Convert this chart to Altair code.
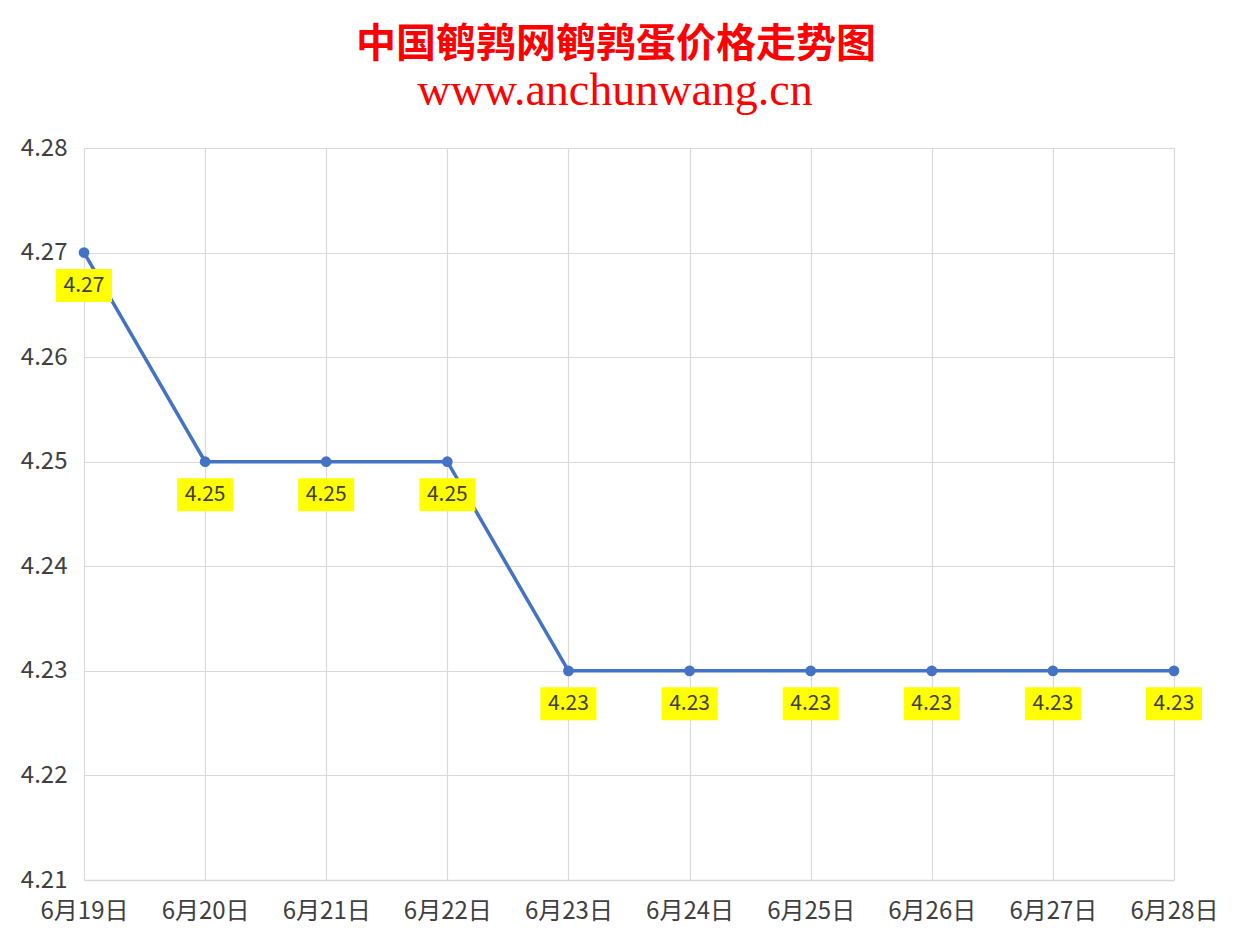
import altair as alt
import pandas as pd

dates = ["6月19日", "6月20日", "6月21日", "6月22日", "6月23日",
         "6月24日", "6月25日", "6月26日", "6月27日", "6月28日"]
prices = [4.27, 4.25, 4.25, 4.25, 4.23, 4.23, 4.23, 4.23, 4.23, 4.23]
y_ticks = [4.21, 4.22, 4.23, 4.24, 4.25, 4.26, 4.27, 4.28]
title_text = "中国鹌鹑网鹌鹑蛋价格走势图"
url_text = "www.anchunwang.cn"

df = pd.DataFrame({"date": dates, "price": prices})
df["label"] = [f"{p:.2f}" for p in prices]

FONT = "Noto Sans CJK SC"
W, H = 1090, 732

x = alt.X("date:N", sort=dates, title=None,
          scale=alt.Scale(type="point", padding=0),
          axis=alt.Axis(labelAngle=0, labelFontSize=24, labelColor="#404040",
                        labelFont=FONT, labelPadding=19, ticks=False,
                        domain=True, domainColor="#d9d9d9", domainWidth=1.5,
                        grid=True, gridColor="#d9d9d9", gridWidth=1.2))
y = alt.Y("price:Q", title=None,
          scale=alt.Scale(domain=[4.21, 4.28], nice=False, zero=False),
          axis=alt.Axis(values=y_ticks, format=".2f", labelFontSize=24,
                        labelColor="#404040", labelFont=FONT, labelPadding=17,
                        ticks=False, domain=False, grid=True,
                        gridColor="#d9d9d9", gridWidth=1.2))

base = alt.Chart(df)

line = base.mark_line(color="#4472C4", strokeWidth=3.5).encode(x=x, y=y)
pts = base.mark_point(filled=True, color="#4472C4", size=115, opacity=1).encode(x=x, y=y)
boxes = base.mark_rect(color="#FFFF00", width=56, height=33, yOffset=33).encode(x=x, y=y)
labels = base.mark_text(fontSize=21, color="#404040", font=FONT, dy=33,
                        baseline="middle", align="center").encode(x=x, y=y, text="label:N")

tdf = pd.DataFrame({"t": [title_text], "u": [url_text]})
title = alt.Chart(tdf).mark_text(fontSize=40, color="#FF0000",
                                 font="Liberation Serif, Noto Sans CJK SC",
                                 fontWeight="bold", align="center", baseline="middle").encode(
    x=alt.value(532), y=alt.value(-103), text="t:N")
url = alt.Chart(tdf).mark_text(fontSize=46, color="#FF0000",
                               font="Liberation Serif", align="center", baseline="alphabetic").encode(
    x=alt.value(531), y=alt.value(-43), text="u:N")

chart = alt.layer(line, pts, boxes, labels, title, url).properties(
    width=W, height=H,
    autosize=alt.AutoSizeParams(type="none"),
    padding={"left": 76, "top": 140, "right": 51, "bottom": 59},
    background="white",
).configure_view(stroke=None)

chart.save("out.html", embed_options={"renderer": "svg", "actions": False})
